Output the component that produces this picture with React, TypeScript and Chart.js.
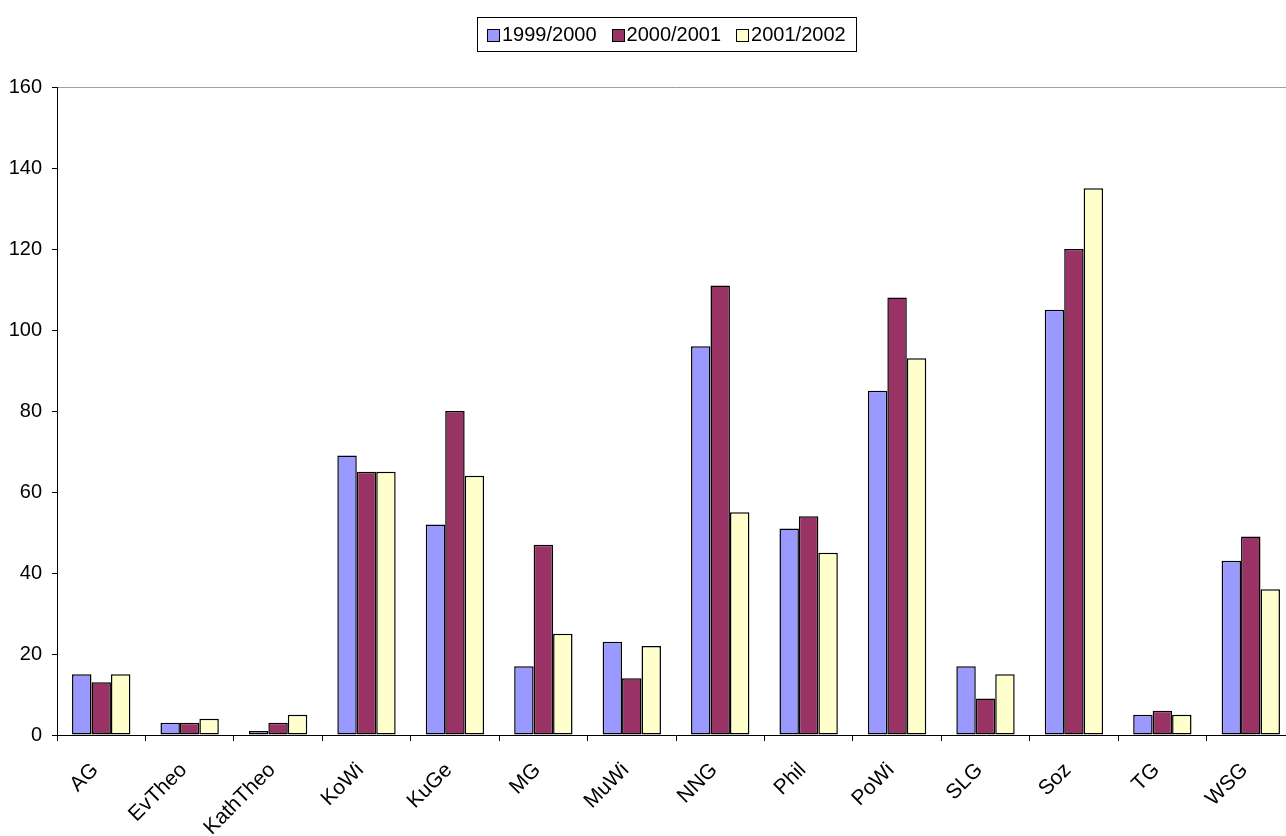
import React, { useEffect, useRef } from "react";
import { Chart, registerables } from "chart.js";

Chart.register(...registerables);

const categories = [
  "AG", "EvTheo", "KathTheo", "KoWi", "KuGe", "MG", "MuWi",
  "NNG", "Phil", "PoWi", "SLG", "Soz", "TG", "WSG",
];
const seriesLabels = ["1999/2000", "2000/2001", "2001/2002"];
const values1999 = [15, 3, 1, 69, 52, 17, 23, 96, 51, 85, 17, 105, 5, 43];
const values2000 = [13, 3, 3, 65, 80, 47, 14, 111, 54, 108, 9, 120, 6, 49];
const values2001 = [15, 4, 5, 65, 64, 25, 22, 55, 45, 93, 15, 135, 5, 36];
const yTicks = [0, 20, 40, 60, 80, 100, 120, 140, 160];

const colors = ["#9999FF", "#993366", "#FFFFCC"];
const FONT = "'Liberation Sans', Arial, sans-serif";

// Framed legend row drawn above the plot
const boxedLegend = {
  id: "boxedLegend",
  afterDraw(chart: any) {
    const ctx = chart.ctx;
    const sets = chart.data.datasets;
    ctx.save();
    ctx.font = `20px ${FONT}`;
    ctx.textBaseline = "middle";
    const sq = 12;
    const gapText = 3;
    const gapItem = 15;
    const widths = sets.map((d: any) => sq + gapText + ctx.measureText(d.label).width);
    const inner = widths.reduce((a: number, b: number) => a + b, 0) + gapItem * (sets.length - 1);
    const padX = 10;
    const boxW = Math.round(inner + padX * 2);
    const boxH = 34;
    const cx = 666;
    const top = 17;
    const left = Math.round(cx - boxW / 2);
    ctx.fillStyle = "#ffffff";
    ctx.fillRect(left + 0.5, top + 0.5, boxW, boxH);
    ctx.strokeStyle = "#000000";
    ctx.lineWidth = 1;
    ctx.strokeRect(left + 0.5, top + 0.5, boxW, boxH);
    let x = left + padX;
    const cy = top + boxH / 2 + 1;
    sets.forEach((d: any, i: number) => {
      const bx = Math.round(x) + 0.5;
      const by = Math.round(cy - sq / 2) + 0.5;
      ctx.fillStyle = d.backgroundColor;
      ctx.fillRect(bx, by, sq, sq);
      ctx.strokeRect(bx, by, sq, sq);
      ctx.fillStyle = "#000000";
      ctx.fillText(d.label, x + sq + gapText, cy);
      x += widths[i] + gapItem;
    });
    ctx.restore();
  },
};

export default function App() {
  const canvasRef = useRef<HTMLCanvasElement | null>(null);

  useEffect(() => {
    const canvas = canvasRef.current;
    if (!canvas) return;
    const chart = new Chart(canvas, {
      type: "bar",
      data: {
        labels: categories,
        datasets: [values1999, values2000, values2001].map((vals, i) => ({
          label: seriesLabels[i],
          data: vals,
          backgroundColor: colors[i],
          borderColor: "#000000",
          borderWidth: 1.5,
          borderSkipped: false,
          categoryPercentage: 0.66,
          barPercentage: 1,
        })),
      },
      options: {
        responsive: false,
        animation: false,
        devicePixelRatio: 1,
        layout: { padding: { top: 87, right: 5, left: 0, bottom: 0 } },
        plugins: {
          legend: { display: false },
          tooltip: { enabled: false },
        },
        scales: {
          x: {
            offset: true,
            grid: {
              offset: true,
              drawOnChartArea: false,
              drawTicks: true,
              tickLength: 6,
              tickColor: "#000000",
            },
            border: { display: true, color: "#000000", width: 1 },
            ticks: {
              autoSkip: false,
              maxRotation: 45,
              minRotation: 45,
              padding: 17,
              labelOffset: -6,
              color: "#000000",
              font: { family: FONT, size: 21 },
            },
            afterFit(scale: any) {
              scale.height = 101;
            },
          },
          y: {
            min: 0,
            max: 160,
            afterBuildTicks(scale: any) {
              scale.ticks = yTicks.map((v) => ({ value: v }));
            },
            grid: {
              drawOnChartArea: true,
              color: (ctx: any) => (ctx.tick && ctx.tick.value === 160 ? "#a0a0a0" : "rgba(0,0,0,0)"),
              tickColor: "#000000",
              tickLength: 5,
            },
            border: { display: true, color: "#000000", width: 1 },
            ticks: {
              padding: 10,
              color: "#000000",
              font: { family: FONT, size: 20 },
            },
            afterFit(scale: any) {
              scale.width = 57;
            },
          },
        },
      },
      plugins: [boxedLegend],
    });
    return () => chart.destroy();
  }, []);

  return (
    <div style={{ position: "fixed", left: 0, top: 0, width: 1300, height: 836, background: "#ffffff" }}>
      <canvas ref={canvasRef} width={1300} height={836} style={{ display: "block" }} />
    </div>
  );
}
